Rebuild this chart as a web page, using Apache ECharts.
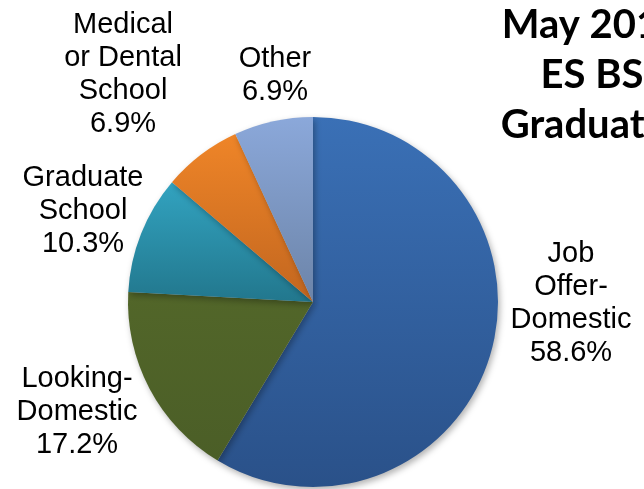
<!DOCTYPE html>
<html>
<head>
<meta charset="utf-8">
<script src="https://cdn.jsdelivr.net/npm/echarts@6/dist/echarts.min.js"></script>
<style>
  html, body { margin: 0; padding: 0; background: #fff; }
  #chart { width: 644px; height: 489px; }
</style>
</head>
<body>
<div id="chart"></div>
<script>
// May ES BS graduates, outcome shares (counts out of 29)
const categories = ['Job\nOffer-\nDomestic', 'Looking-\nDomestic', 'Graduate\nSchool', 'Medical\nor Dental\nSchool', 'Other']
const counts = [17, 5, 3, 2, 2]
const percents = ['58.6%', '17.2%', '10.3%', '6.9%', '6.9%']

// slice colours, top -> bottom of each slice
const sliceColors = [
  ['#3a70b6', '#2a5189'],
  ['#526629', '#4b5e27'],
  ['#32a3c0', '#22778d'],
  ['#ef8528', '#c2661f'],
  ['#8ba8da', '#6c84a8']
]

// where each label block is centred (like the hand-placed labels of the original)
const labelPos = [
  [571, 303],
  [77, 412],
  [83, 211],
  [123, 74],
  [275, 75]
]

function grad(c) {
  return new echarts.graphic.LinearGradient(0, 0, 0, 1, [
    { offset: 0, color: c[0] },
    { offset: 1, color: c[1] }
  ])
}

const chart = echarts.init(document.getElementById('chart'))

chart.setOption({
  animation: false,
  graphic: [{
    type: 'text',
    x: 592,
    y: 0,
    style: {
      text: 'May 2013\nES BS\nGraduates',
      textAlign: 'center',
      fill: '#000',
      font: 'bold 40px Lato',
      lineHeight: 50
    }
  }],
  series: [{
    type: 'pie',
    center: [313, 302],
    radius: 185,
    startAngle: 90,
    clockwise: true,
    data: categories.map((name, i) => ({
      name: name,
      value: counts[i],
      itemStyle: { color: grad(sliceColors[i]) }
    })),
    itemStyle: {
      shadowBlur: 6,
      shadowColor: 'rgba(0,0,0,0.3)',
      shadowOffsetX: 2,
      shadowOffsetY: 3
    },
    label: {
      show: true,
      position: 'outside',
      formatter: p => p.name + '\n' + percents[p.dataIndex],
      fontFamily: '"Liberation Sans", Arial, sans-serif',
      fontSize: 29,
      lineHeight: 33,
      color: '#000',
      overflow: 'none'
    },
    labelLine: { show: false },
    labelLayout: p => ({
      x: labelPos[p.dataIndex][0],
      y: labelPos[p.dataIndex][1],
      align: 'center',
      verticalAlign: 'middle'
    })
  }]
})
</script>
</body>
</html>
